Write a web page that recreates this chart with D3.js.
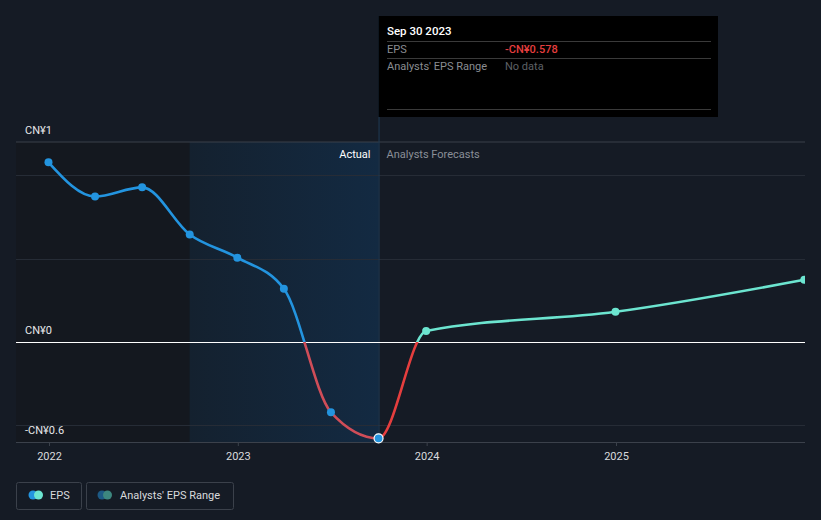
<!DOCTYPE html>
<html><head><meta charset="utf-8">
<script src="https://cdn.jsdelivr.net/npm/d3@7"></script>
<style>
html,body{margin:0;padding:0;background:#151b25;}
svg{display:block;font-family:Roboto, "Noto Sans", sans-serif;}
</style></head>
<body>
<svg id="chart" width="821" height="520"></svg>
<script>
// ---- data ----
const actualDates = ["2021-12-31","2022-03-31","2022-06-30","2022-09-30","2022-12-31","2023-03-31","2023-06-30","2023-09-30"];
const actualEps   = [1.078, 0.873, 0.928, 0.645, 0.506, 0.319, -0.422, -0.578];
const forecastDates = ["2023-12-31","2024-12-31","2025-12-31"];
const forecastEps   = [0.066, 0.181, 0.373];
const yearTicks = ["2022","2023","2024","2025"];
const yLabels = [{v:1.2, t:"CN¥1"},{v:0.0, t:"CN¥0"},{v:-0.6, t:"-CN¥0.6"}];
const gridValues = [-0.5, 0.5, 1.0];
const pastStart = "2022-09-30";
const tooltipDate = "Sep 30 2023";
const tooltipEps = "-CN¥0.578";

const parse = d3.timeParse("%Y-%m-%d");
const actual = actualDates.map((d,i)=>({date:parse(d), v:actualEps[i]}));
const forecast = forecastDates.map((d,i)=>({date:parse(d), v:forecastEps[i]}));
const all = actual.concat(forecast);

const svg = d3.select("#chart");
const L = 16, R = 805, T = 142, B = 442;

const x = d3.scaleTime().domain([parse("2022-01-01"), parse("2025-01-01")]).range([49, 616]);
const y = d3.scaleLinear().domain([-0.6, 1.2]).range([B, T]);

const defs = svg.append("defs");
const grad = defs.append("linearGradient").attr("id","pastGrad").attr("x1","0").attr("x2","1").attr("y1","0").attr("y2","0");
grad.append("stop").attr("offset","0").attr("stop-color","#14212f");
grad.append("stop").attr("offset","1").attr("stop-color","#132a42");

const lastDate = actual[actual.length-1].date;
const xPast = x(parse(pastStart)), xNow = x(lastDate);

// backgrounds
svg.append("rect").attr("x",L).attr("y",T).attr("width",xPast-L).attr("height",B-T).attr("fill","#14181f");
svg.append("rect").attr("x",xPast).attr("y",T).attr("width",xNow-xPast).attr("height",B-T).attr("fill","url(#pastGrad)");

// grid
svg.append("line").attr("x1",L).attr("x2",R).attr("y1",T).attr("y2",T).attr("stroke","#3b414b").attr("stroke-width",1);
svg.selectAll(".grid").data(gridValues).enter().append("line")
  .attr("x1",L).attr("x2",R).attr("y1",d=>Math.round(y(d))+0.5).attr("y2",d=>Math.round(y(d))+0.5)
  .attr("stroke","#262c36").attr("stroke-width",1);

// vertical now line
svg.append("line").attr("x1",xNow+0.5).attr("x2",xNow+0.5).attr("y1",16).attr("y2",B).attr("stroke","#1f3a55").attr("stroke-width",1);

// Actual / forecasts labels
svg.append("text").attr("x",xNow-8).attr("y",158).attr("text-anchor","end").attr("fill","#ffffff").attr("font-size",11).text("Actual");
svg.append("text").attr("x",xNow+8).attr("y",158).attr("fill","#8a8f98").attr("font-size",11).text("Analysts Forecasts");

// x axis
const xAxisG = svg.append("g").attr("transform",`translate(0,${B})`);
xAxisG.append("line").attr("x1",L).attr("x2",R).attr("y1",0.5).attr("y2",0.5).attr("stroke","#3b414b");
const ax = d3.axisBottom(x).tickValues(yearTicks.map(t=>parse(t+"-01-01"))).tickFormat(d3.timeFormat("%Y")).tickSize(4).tickPadding(6);
xAxisG.call(ax);
xAxisG.select(".domain").remove();
xAxisG.selectAll(".tick line").attr("stroke","#3b414b");
xAxisG.selectAll(".tick text").attr("fill","#d8dadd").attr("font-size",11).attr("font-family","Roboto, sans-serif");

// zero line
svg.append("line").attr("x1",L).attr("x2",R).attr("y1",Math.round(y(0))+0.5).attr("y2",Math.round(y(0))+0.5).attr("stroke","#ffffff").attr("stroke-width",1);

// y labels
svg.selectAll(".ylab").data(yLabels).enter().append("text")
  .attr("x",25).attr("y",d=>y(d.v)-8).attr("fill","#e6e7e9").attr("font-size",11).text(d=>d.t);

// line with clipping
const y0 = y(0);
const clips = [
  {id:"cA", x:0, y:0, w:xNow, h:y0, color:"#2394df"},
  {id:"cB", x:0, y:y0, w:xNow, h:520-y0, color:"#cf4d58"},
  {id:"cC", x:xNow, y:0, w:821-xNow, h:y0, color:"#6ce5d0"},
  {id:"cD", x:xNow, y:y0, w:821-xNow, h:520-y0, color:"#e53e3e"}
];
clips.forEach(c=>{
  defs.append("clipPath").attr("id",c.id).append("rect").attr("x",c.x).attr("y",c.y).attr("width",c.w).attr("height",c.h);
});
const plotClip = defs.append("clipPath").attr("id","plotClip");
plotClip.append("rect").attr("x",0).attr("y",0).attr("width",R).attr("height",520);

const line = d3.line().x(d=>x(d.date)).y(d=>y(d.v)).curve(d3.curveMonotoneX);
const lineG = svg.append("g").attr("clip-path","url(#plotClip)");
clips.forEach(c=>{
  lineG.append("path").datum(all).attr("d",line).attr("fill","none")
    .attr("stroke",c.color).attr("stroke-width",2.6).attr("clip-path",`url(#${c.id})`);
});

// markers
lineG.selectAll(".am").data(actual.slice(0,-1)).enter().append("circle")
  .attr("cx",d=>x(d.date)).attr("cy",d=>y(d.v)).attr("r",4).attr("fill","#2394df");
lineG.selectAll(".fm").data(forecast).enter().append("circle")
  .attr("cx",d=>x(d.date)).attr("cy",d=>y(d.v)).attr("r",4).attr("fill","#6ce5d0");
const last = actual[actual.length-1];
svg.append("circle").attr("cx",x(last.date)).attr("cy",y(last.v)).attr("r",4.5)
  .attr("fill","#2394df").attr("stroke","#ffffff").attr("stroke-width",1.2);

// tooltip
const tt = svg.append("g");
tt.append("rect").attr("x",xNow).attr("y",16).attr("width",718-xNow).attr("height",101).attr("fill","#000000");
tt.append("text").attr("x",387).attr("y",35).attr("fill","#ffffff").attr("font-size",11.5).attr("font-weight","500").text(tooltipDate);
[41,58,109].forEach(yy=>tt.append("line").attr("x1",387).attr("x2",711).attr("y1",yy+0.5).attr("y2",yy+0.5).attr("stroke","#3a3a3a"));
tt.append("text").attr("x",387).attr("y",53).attr("fill","#8a8d92").attr("font-size",11).text("EPS");
tt.append("text").attr("x",505).attr("y",53).attr("fill","#e53e3e").attr("font-size",11).attr("font-weight","500").text(tooltipEps);
tt.append("text").attr("x",387).attr("y",70).attr("fill","#8a8d92").attr("font-size",11).text("Analysts' EPS Range");
tt.append("text").attr("x",505).attr("y",70).attr("fill","#5e6166").attr("font-size",11).text("No data");

// legend
const leg = svg.append("g");
leg.append("rect").attr("x",16.5).attr("y",482.5).attr("width",65).attr("height",27).attr("rx",2).attr("fill","none").attr("stroke","#3b414b");
leg.append("circle").attr("cx",33).attr("cy",495).attr("r",4.5).attr("fill","#2394df");
leg.append("circle").attr("cx",38.5).attr("cy",495).attr("r",4.5).attr("fill","#6ce5d0");
leg.append("text").attr("x",50).attr("y",499).attr("fill","#d8dadd").attr("font-size",11).text("EPS");
leg.append("rect").attr("x",86.5).attr("y",482.5).attr("width",147).attr("height",27).attr("rx",2).attr("fill","none").attr("stroke","#3b414b");
leg.append("circle").attr("cx",102).attr("cy",495).attr("r",4.5).attr("fill","#1d5a85");
leg.append("circle").attr("cx",107.5).attr("cy",495).attr("r",4.5).attr("fill","#3d877f");
leg.append("text").attr("x",120).attr("y",499).attr("fill","#d8dadd").attr("font-size",11).text("Analysts' EPS Range");
</script>
</body></html>
